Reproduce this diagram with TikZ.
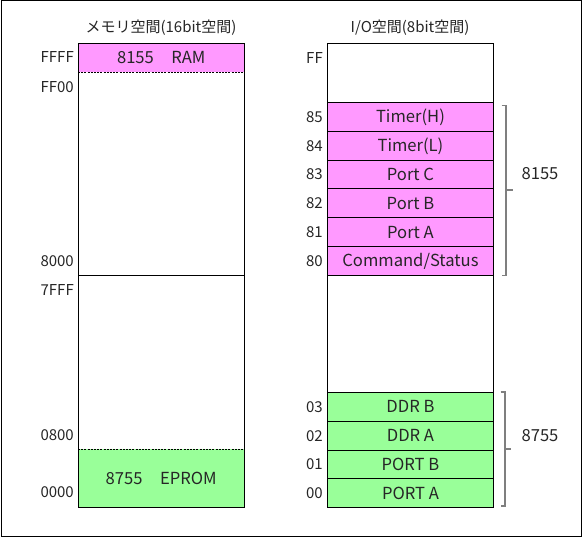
\documentclass[tikz,border=0pt]{standalone}
\usepackage{fontspec}
\setmainfont{Noto Sans CJK JP}
\definecolor{pinkc}{HTML}{FF99FF}
\definecolor{greenc}{HTML}{99FF99}
\definecolor{brk}{HTML}{7F7F7F}
\definecolor{txt}{HTML}{262626}
\begin{document}
\begin{tikzpicture}[x=1pt,y=-1pt,
  font=\fontsize{15}{18}\selectfont,
  big/.style={font=\fontsize{16.6}{19}\selectfont, text height=12pt, text depth=0pt},
  cell/.style={draw=black, line width=0.9pt, minimum width=166pt, minimum height=28.8pt,
    inner sep=0pt, anchor=north west, text=txt, big},
  fillcell/.style={minimum width=166pt, inner sep=0pt, anchor=north west, text=txt, big},
  addr/.style={anchor=east, inner sep=0pt, text=txt, text height=11pt, text depth=0pt},
  lbl/.style={inner sep=0pt, text=txt, text height=11pt, text depth=0pt},
  brack/.style={draw=brk, line width=1.4pt},
  dashline/.style={draw=black, line width=0.9pt, dash pattern=on 2pt off 1.2pt}]
\useasboundingbox (0,0) rectangle (583,537);
\draw[line width=1pt] (1,1) rectangle (581,536);

% titles
\node[lbl] (t1) at (161,27.5) {メモリ空間(16bit空間)};
\node[lbl] (t2) at (410,27.5) {I/O空間(8bit空間)};

% ---- memory space ----
\node[fillcell, fill=pinkc, minimum height=29pt] (ram) at (78,43) {8155\hspace{1.05em}RAM};
\node[fillcell, fill=greenc, minimum height=58pt] (eprom) at (78,449) {8755\hspace{1.05em}EPROM};
\draw[dashline] (ram.south west) -- (ram.south east);
\draw[dashline] (eprom.north west) -- (eprom.north east);
\coordinate (m8000w) at (78,275);
\coordinate (m8000e) at (244,275);
\draw[line width=0.9pt] (m8000w) -- (m8000e);
\draw[line width=0.9pt] (78,43) rectangle (244,507);

\node[addr] (aFFFF) at (74,57.5) {FFFF};
\node[addr] (aFF00) at (74,87) {FF00};
\node[addr] (a8000) at (74,261) {8000};
\node[addr] (a7FFF) at (74,289.5) {7FFF};
\node[addr] (a0800) at (74,434.5) {0800};
\node[addr] (a0000) at (74,491.5) {0000};

% ---- I/O space ----
\draw[line width=0.9pt] (327,43) rectangle (493,507);
\node[cell, fill=pinkc] (r85) at (327,102) {Timer(H)};
\node[cell, fill=pinkc] (r84) at (327,130.8) {Timer(L)};
\node[cell, fill=pinkc] (r83) at (327,159.6) {Port C};
\node[cell, fill=pinkc] (r82) at (327,188.4) {Port B};
\node[cell, fill=pinkc] (r81) at (327,217.2) {Port A};
\node[cell, fill=pinkc] (r80) at (327,246) {Command/Status};
\node[cell, fill=greenc] (r03) at (327,392) {DDR B};
\node[cell, fill=greenc] (r02) at (327,420.8) {DDR A};
\node[cell, fill=greenc] (r01) at (327,449.6) {PORT B};
\node[cell, fill=greenc] (r00) at (327,478.4) {PORT A};

\node[addr] (bFF) at (323,58) {FF};
\foreach \n in {85,84,83,82,81,80,03,02,01,00}{
  \node[addr] (b\n) at ([xshift=-4pt]r\n.west) {\n};
}

% brackets
\coordinate (k1t) at (501.5,105.5);
\coordinate (k1b) at (501.5,275.5);
\draw[brack] (k1t) -- ++(4.5,0) |- (k1b);
\draw[brack] (506,190) -- (513,190);
\node[lbl, big] (l8155) at (540,173.5) {8155};

\coordinate (k2t) at (500.5,392);
\coordinate (k2b) at (500.5,506);
\draw[brack] (k2t) -- ++(4.5,0) |- (k2b);
\draw[brack] (505,449) -- (511,449);
\node[lbl, big] (l8755) at (540,435) {8755};
\end{tikzpicture}
\end{document}
